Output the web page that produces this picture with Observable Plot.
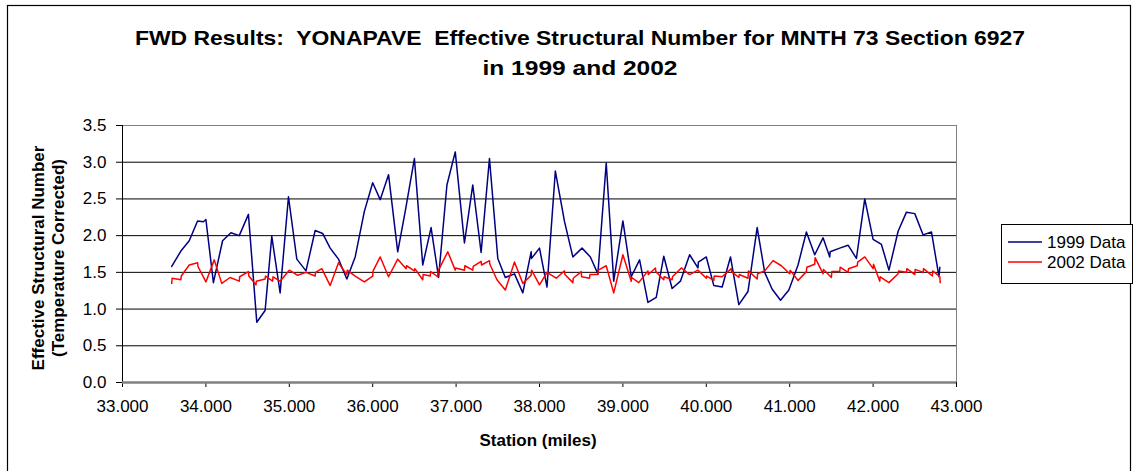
<!DOCTYPE html>
<html><head><meta charset="utf-8">
<script src="https://cdn.jsdelivr.net/npm/d3@7"></script>
<script src="https://cdn.jsdelivr.net/npm/@observablehq/plot@0.6"></script>
<style>
html,body{margin:0;padding:0;background:#fff;}
#chart{position:relative;width:1135px;height:471px;overflow:hidden;}
</style></head><body><div id="chart"></div>
<script>
const stations1999 = [33.59,33.70,33.80,33.90,33.97,34.00,34.09,34.20,34.30,34.40,34.51,34.61,34.71,34.79,34.89,34.99,35.09,35.20,35.31,35.40,35.49,35.59,35.69,35.79,35.90,36.00,36.09,36.19,36.30,36.39,36.50,36.60,36.70,36.79,36.89,36.99,37.10,37.20,37.30,37.40,37.50,37.59,37.70,37.80,37.90,37.905,38.00,38.09,38.19,38.30,38.40,38.51,38.61,38.70,38.80,38.89,39.00,39.10,39.20,39.30,39.40,39.49,39.59,39.69,39.80,39.90,39.905,40.00,40.09,40.19,40.29,40.39,40.50,40.61,40.70,40.79,40.89,40.99,41.10,41.20,41.30,41.40,41.48,41.485,41.60,41.70,41.80,41.90,42.00,42.10,42.19,42.30,42.40,42.50,42.60,42.70,42.79,42.80];
const esn1999 = [1.58,1.79,1.93,2.20,2.19,2.22,1.36,1.93,2.04,2.00,2.29,0.82,0.98,1.99,1.22,2.53,1.68,1.52,2.07,2.03,1.83,1.68,1.41,1.71,2.33,2.72,2.49,2.83,1.78,2.33,3.05,1.60,2.11,1.43,2.69,3.14,1.90,2.69,1.77,3.05,1.69,1.43,1.48,1.22,1.78,1.69,1.83,1.30,2.88,2.19,1.71,1.83,1.71,1.48,2.99,1.38,2.20,1.44,1.67,1.09,1.16,1.72,1.28,1.38,1.74,1.56,1.64,1.71,1.32,1.30,1.71,1.06,1.24,2.11,1.50,1.27,1.12,1.26,1.60,2.05,1.74,1.97,1.71,1.78,1.83,1.87,1.69,2.50,1.95,1.88,1.53,2.06,2.32,2.30,2.01,2.05,1.44,1.57];
const stations2002 = [33.59,33.595,33.70,33.705,33.80,33.90,33.905,34.00,34.10,34.19,34.29,34.40,34.405,34.51,34.515,34.60,34.605,34.71,34.715,34.80,34.805,34.89,35.00,35.10,35.20,35.31,35.315,35.39,35.49,35.59,35.69,35.695,35.79,35.90,36.00,36.005,36.09,36.19,36.30,36.40,36.405,36.50,36.505,36.60,36.605,36.69,36.695,36.78,36.785,36.90,36.99,36.995,37.10,37.105,37.20,37.205,37.30,37.305,37.40,37.405,37.49,37.59,37.70,37.80,37.90,37.905,38.00,38.09,38.20,38.30,38.305,38.40,38.405,38.50,38.505,38.60,38.605,38.70,38.705,38.80,38.89,39.00,39.10,39.105,39.19,39.30,39.305,39.39,39.395,39.49,39.495,39.59,39.595,39.70,39.80,39.90,40.00,40.005,40.09,40.095,40.19,40.30,40.305,40.39,40.395,40.50,40.505,40.61,40.615,40.70,40.80,40.90,41.00,41.005,41.10,41.20,41.205,41.30,41.305,41.40,41.405,41.50,41.505,41.60,41.605,41.70,41.705,41.81,41.815,41.90,42.00,42.005,42.08,42.085,42.19,42.30,42.305,42.40,42.405,42.50,42.505,42.60,42.605,42.71,42.715,42.80,42.805];
const esn2002 = [1.35,1.42,1.40,1.45,1.60,1.63,1.58,1.37,1.67,1.35,1.43,1.38,1.44,1.51,1.45,1.33,1.38,1.41,1.45,1.38,1.44,1.38,1.53,1.46,1.50,1.45,1.50,1.55,1.32,1.63,1.47,1.53,1.45,1.37,1.45,1.52,1.71,1.44,1.68,1.55,1.59,1.52,1.55,1.40,1.47,1.45,1.51,1.44,1.52,1.78,1.53,1.56,1.53,1.59,1.53,1.58,1.65,1.60,1.66,1.61,1.40,1.26,1.64,1.35,1.46,1.53,1.33,1.50,1.42,1.52,1.47,1.36,1.42,1.51,1.44,1.42,1.47,1.47,1.53,1.59,1.22,1.74,1.38,1.43,1.36,1.52,1.47,1.56,1.51,1.40,1.44,1.40,1.44,1.56,1.47,1.53,1.42,1.45,1.39,1.45,1.44,1.55,1.51,1.43,1.47,1.42,1.52,1.41,1.48,1.52,1.66,1.59,1.48,1.53,1.39,1.51,1.57,1.61,1.70,1.48,1.54,1.43,1.51,1.51,1.57,1.50,1.55,1.59,1.64,1.71,1.55,1.61,1.38,1.44,1.36,1.48,1.52,1.50,1.55,1.47,1.54,1.50,1.55,1.45,1.52,1.44,1.36];
const xTicks = [33,34,35,36,37,38,39,40,41,42,43];
const yTicks = [0,0.5,1.0,1.5,2.0,2.5,3.0,3.5];
const seriesNames = ["1999 Data","2002 Data"];
const seriesColors = ["#000080","#FF0000"];
const titleLines = ["FWD Results:  YONAPAVE  Effective Structural Number for MNTH 73 Section 6927","in 1999 and 2002"];
const yTitleLines = ["Effective Structural Number","(Temperature Corrected)"];
const xTitle = "Station (miles)";

const data = [
  ...stations1999.map((s,i)=>({station:s, esn:esn1999[i], series:seriesNames[0]})),
  ...stations2002.map((s,i)=>({station:s, esn:esn2002[i], series:seriesNames[1]}))
];

const W = 1135, H = 471, mL = 122, mR = 179, mT = 125, mB = 89;
const svg = Plot.plot({
  width: W, height: H,
  marginLeft: mL, marginRight: mR, marginTop: mT, marginBottom: mB,
  style: {fontFamily: "'Liberation Sans', Arial, sans-serif", fontSize: "17px", background: "#fff", color: "#000"},
  x: {domain: [33, 43]},
  y: {domain: [0, 3.5]},
  color: {domain: seriesNames, range: seriesColors},
  marks: [
    Plot.gridY(yTicks.filter(v => v > 0 && v < 3.5), {stroke: "#000", strokeOpacity: 1, strokeWidth: 1}),
    Plot.frame({stroke: "#808080"}),
    Plot.axisY(yTicks, {tickFormat: d3.format(".1f"), tickSize: 6, tickPadding: 10, label: null, stroke: "#000", fontSize: 17}),
    Plot.axisX(xTicks, {tickFormat: d3.format(".3f"), tickSize: 5, tickPadding: 12, label: null, stroke: "#000", fontSize: 17}),
    Plot.ruleX([33], {stroke: "#000"}),
    Plot.ruleY([0], {stroke: "#808080", strokeWidth: 2.5}),
    Plot.line(data, {x: "station", y: "esn", z: "series", stroke: "series", strokeWidth: 1.5})
  ]
});
document.getElementById("chart").appendChild(svg);

const s = d3.select(svg);
const font = "'Liberation Sans', Arial, sans-serif";
s.append("rect").attr("x", 7.5).attr("y", 5.5).attr("width", 1123).attr("height", 500)
  .attr("fill", "none").attr("stroke", "#000").attr("stroke-width", 1.2);
const titleWidths = [890, 195];
titleLines.forEach((t, i) => {
  s.append("text").attr("x", 580).attr("y", 45 + i * 30).attr("text-anchor", "middle")
    .style("white-space", "pre").attr("font-family", font).attr("font-weight", "bold").attr("font-size", 21)
    .attr("textLength", titleWidths[i]).attr("lengthAdjust", "spacingAndGlyphs")
    .attr("fill", "#000").text(t);
});
yTitleLines.forEach((t, i) => {
  s.append("text").attr("transform", `translate(${44 + i * 20},258) rotate(-90)`).attr("text-anchor", "middle")
    .attr("font-family", font).attr("font-weight", "bold").attr("font-size", 17).attr("fill", "#000").text(t);
});
s.append("text").attr("x", 538).attr("y", 446).attr("text-anchor", "middle")
  .attr("font-family", font).attr("font-weight", "bold").attr("font-size", 17).attr("fill", "#000").text(xTitle);

const lg = s.append("g");
lg.append("rect").attr("x", 1001.5).attr("y", 224.5).attr("width", 131).attr("height", 59)
  .attr("fill", "#fff").attr("stroke", "#000").attr("stroke-width", 1);
seriesNames.forEach((n, i) => {
  const y = 242 + i * 20;
  lg.append("line").attr("x1", 1008).attr("x2", 1042).attr("y1", y).attr("y2", y)
    .attr("stroke", seriesColors[i]).attr("stroke-width", 1.5);
  lg.append("text").attr("x", 1047).attr("y", y + 6).attr("text-anchor", "start")
    .attr("font-family", font).attr("font-size", 17).attr("fill", "#000").text(n);
});
</script></body></html>
